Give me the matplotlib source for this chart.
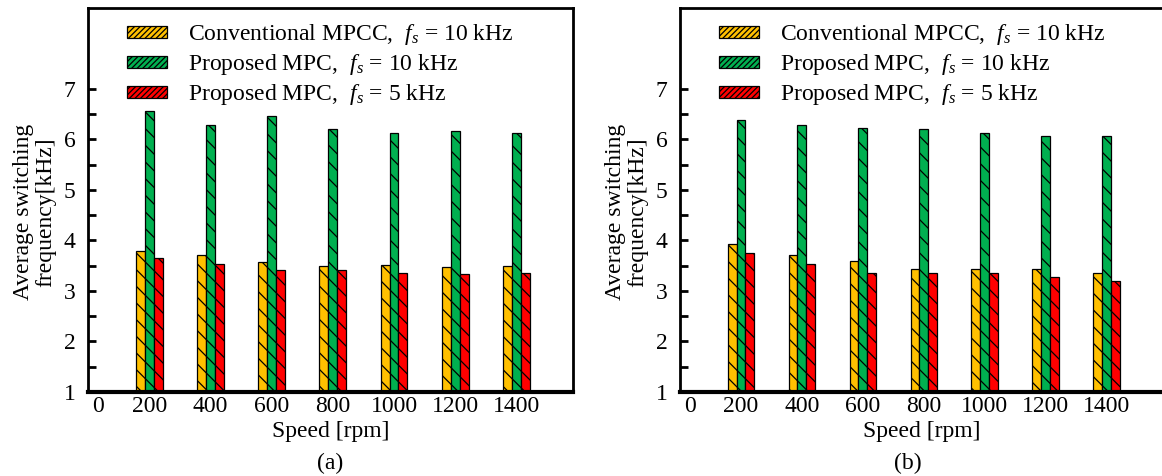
import matplotlib
matplotlib.use('Agg')
import matplotlib.pyplot as plt
import numpy as np
from matplotlib.patches import Patch
from matplotlib.ticker import FixedLocator

# DATA
speeds = [200, 400, 600, 800, 1000, 1200, 1400]
tick_labels = ['0', '200', '400', '600', '800', '1000', '1200', '1400']
series_names = [r'Conventional MPCC,  $f_s$ = 10 kHz',
                r'Proposed MPC,  $f_s$ = 10 kHz',
                r'Proposed MPC,  $f_s$ = 5 kHz']
colors = ['#FFC000', '#00B050', '#FF0000']

# panel (a)
conv_a = [3.79, 3.71, 3.57, 3.50, 3.51, 3.48, 3.50]
prop10_a = [6.56, 6.29, 6.47, 6.21, 6.13, 6.17, 6.13]
prop5_a = [3.66, 3.54, 3.42, 3.42, 3.35, 3.33, 3.35]
# panel (b)
conv_b = [3.92, 3.71, 3.60, 3.44, 3.44, 3.44, 3.36]
prop10_b = [6.38, 6.29, 6.22, 6.21, 6.13, 6.06, 6.06]
prop5_b = [3.76, 3.54, 3.36, 3.36, 3.35, 3.28, 3.20]

plt.rcParams['font.family'] = ['Liberation Serif', 'DejaVu Serif']
plt.rcParams['mathtext.fontset'] = 'custom'
plt.rcParams['mathtext.rm'] = 'Liberation Serif'
plt.rcParams['mathtext.it'] = 'Liberation Serif:italic'
plt.rcParams['hatch.linewidth'] = 0.9
FS = 17

fig = plt.figure(figsize=(11.62, 4.76), dpi=100)
ax_a = fig.add_axes([88/1162, 1-392/476, (573-88)/1162, 384/476])
ax_b = fig.add_axes([680/1162, 1-392/476, (1163-680)/1162, 384/476])

bw = 29
x = np.array(speeds)


def draw(ax, data, tag, xc, ylab_x):
    #BARS
    for i, vals in enumerate(data):
        ax.bar(x + (i-1)*bw, np.array(vals) - 1, bw, bottom=1,
               color=colors[i], edgecolor='black', linewidth=0.9,
               hatch='\\\\', zorder=2)
    #AXES
    ax.set_xlim(0, 1585)
    ax.set_ylim(1, 8.6)
    # the "0" label sits a little right of the y axis, like the original
    ax.set_xticks([33] + speeds)
    ax.set_xticklabels(tick_labels, fontsize=FS)
    ax.tick_params(axis='x', length=0, pad=3)
    ax.yaxis.set_major_locator(FixedLocator([1, 2, 3, 4, 5, 6, 7]))
    ax.yaxis.set_minor_locator(FixedLocator([1.5, 2.5, 3.5, 4.5, 5.5, 6.5]))
    ax.tick_params(axis='y', which='both', direction='in', length=6,
                   width=2, labelsize=FS, pad=9)
    for s in ax.spines.values():
        s.set_linewidth(2)
    ax.spines['bottom'].set_linewidth(3)
    fig.text(ylab_x, 1-212/476, 'Average switching\nfrequency[kHz]',
             fontsize=FS, rotation=90, ha='right', va='center',
             multialignment='center', linespacing=1.05)
    ax.set_xlabel('Speed [rpm]', fontsize=FS, labelpad=3)
    fig.text(xc, 0.027, tag, fontsize=FS, ha='center', va='center')
    #LEGEND
    handles = [Patch(facecolor=c, edgecolor='black', linewidth=0.9,
                     hatch='//////') for c in colors]
    ax.legend(handles, series_names, loc='upper left',
              bbox_to_anchor=(0.08, 0.963), frameon=False, fontsize=FS,
              borderpad=0, borderaxespad=0, handlelength=1.7,
              handleheight=0.4, handletextpad=0.9, labelspacing=0.21)


draw(ax_a, [conv_a, prop10_a, prop5_a], '(a)', 330/1162, 56/1162)
draw(ax_b, [conv_b, prop10_b, prop5_b], '(b)', 908/1162, 648/1162)

fig.savefig('out.png', dpi=100)
